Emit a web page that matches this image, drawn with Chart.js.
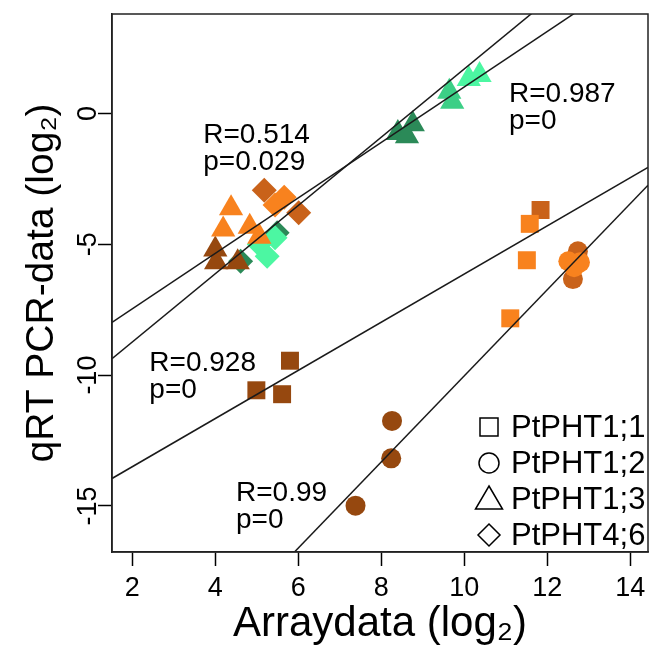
<!DOCTYPE html>
<html>
<head>
<meta charset="utf-8">
<title>qRT-PCR vs Array</title>
<script src="https://cdn.jsdelivr.net/npm/chart.js@4"></script>
<style>
  html, body { margin: 0; padding: 0; background: #fff; }
  #wrap { width: 662px; height: 657px; }
</style>
</head>
<body>
<div id="wrap"><canvas id="chartScatter"></canvas></div>
<script>
// genes and marker shapes
const genes = ['PtPHT1;1', 'PtPHT1;2', 'PtPHT1;3', 'PtPHT4;6'];
const shapes = ['rect', 'circle', 'triangle', 'rectRot'];

// tissue colours
const palette = {
  brown: '#96480f',
  darkOrange: '#c9621a',
  orange: '#f8821e',
  darkGreen: '#2b8a58',
  midGreen: '#3ccf86',
  lightGreen: '#4cf7a2'
};

// PtPHT1;1 (squares)
const pht11X = [5.80, 4.99, 5.61, 11.84, 11.58, 11.51, 11.11];
const pht11Y = [-9.45, -10.58, -10.73, -3.69, -4.22, -5.61, -7.83];
const pht11C = ['brown', 'brown', 'brown', 'darkOrange', 'orange', 'orange', 'orange'];

// PtPHT1;2 (circles)
const pht12X = [8.26, 8.24, 7.38, 12.74, 12.62, 12.51, 12.79, 12.65];
const pht12Y = [-11.75, -13.18, -14.99, -5.27, -6.33, -5.65, -5.69, -5.88];
const pht12C = ['brown', 'brown', 'brown', 'darkOrange', 'darkOrange', 'orange', 'orange', 'orange'];

// PtPHT1;3 (triangles)
const pht13X = [4.00, 4.02, 4.54, 4.38, 4.19, 4.83, 5.06, 8.40, 8.76, 8.62, 9.64, 9.71, 10.37, 10.11];
const pht13Y = [-5.20, -5.69, -5.69, -3.62, -4.44, -4.33, -4.71, -0.75, -0.41, -0.87, 0.83, 0.45, 1.47, 1.32];
const pht13C = ['brown', 'brown', 'brown', 'orange', 'orange', 'orange', 'orange',
  'darkGreen', 'darkGreen', 'darkGreen', 'midGreen', 'midGreen', 'lightGreen', 'lightGreen'];

// PtPHT4;6 (diamonds)
const pht46X = [5.18, 5.66, 6.01, 5.44, 4.61, 5.49, 5.06, 5.25, 5.44];
const pht46Y = [-2.94, -3.20, -3.80, -3.50, -5.65, -4.56, -5.01, -5.46, -4.75];
const pht46C = ['darkOrange', 'orange', 'darkOrange', 'orange', 'darkGreen', 'darkGreen', 'lightGreen', 'lightGreen', 'lightGreen'];

// regression lines y = a + b*x
const fitSlope = [1.06, 1.304, 0.92, 1.645];
const fitIntercept = [-9.59, -11.34, -15.34, -26.48];

// correlation labels (anchor at left / baseline of first line)
const statText = [['R=0.514', 'p=0.029'], ['R=0.987', 'p=0'], ['R=0.928', 'p=0'], ['R=0.99', 'p=0']];
const statX = [3.71, 11.08, 2.41, 4.50];
const statY = [-1.13, 0.45, -9.83, -14.80];

// axes
const xMin = 1.51, xMax = 14.43;
const yMin = -16.76, yMax = 3.8;
const xTicks = [2, 4, 6, 8, 10, 12, 14];
const yTicks = [0, -5, -10, -15];

const FONT = "'Liberation Sans', Arial, sans-serif";

function points(xs, ys) {
  return xs.map((x, i) => ({ x: x, y: ys[i] }));
}

const scatterSets = [
  [pht11X, pht11Y, pht11C],
  [pht12X, pht12Y, pht12C],
  [pht13X, pht13Y, pht13C],
  [pht46X, pht46Y, pht46C]
].map(([xs, ys, cs], g) => ({
  type: 'scatter',
  label: genes[g],
  data: points(xs, ys),
  pointStyle: shapes[g],
  pointRadius: [12.7, 10, 14, 12.5][g],
  pointBackgroundColor: cs.map(c => palette[c]),
  pointBorderWidth: 0,
  pointBorderColor: 'rgba(0,0,0,0)',
  order: 2
}));

const lineSets = fitSlope.map((b, i) => ({
  type: 'line',
  label: 'fit' + i,
  data: [
    { x: xMin, y: fitIntercept[i] + b * xMin },
    { x: xMax, y: fitIntercept[i] + b * xMax }
  ],
  borderColor: '#1a1a1a',
  borderWidth: 1.5,
  pointRadius: 0,
  fill: false,
  order: 1
}));

// box, rotated y labels, stats text, legend
const decorations = {
  id: 'decorations',
  afterDatasetsDraw(chart) {
    const ctx = chart.ctx;
    const area = chart.chartArea;
    const xs = chart.scales.x, ys = chart.scales.y;
    ctx.save();
    ctx.strokeStyle = '#222';
    ctx.lineWidth = 1.5;
    ctx.strokeRect(area.left, area.top, area.right - area.left, area.bottom - area.top);

    ctx.fillStyle = '#000';
    ctx.font = '27px ' + FONT;
    ctx.textAlign = 'center';
    ctx.textBaseline = 'alphabetic';
    yTicks.forEach(v => {
      ctx.save();
      ctx.translate(96, ys.getPixelForValue(v));
      ctx.rotate(-Math.PI / 2);
      ctx.fillText(String(v), 0, 0);
      ctx.restore();
    });

    ctx.font = '28px ' + FONT;
    ctx.textAlign = 'left';
    statText.forEach((lines, i) => {
      const px = xs.getPixelForValue(statX[i]);
      const py = ys.getPixelForValue(statY[i]);
      lines.forEach((t, k) => ctx.fillText(t, px, py + k * 27));
    });

    // legend with open symbols
    const lx = 489, ly0 = 427, step = 36;
    ctx.lineWidth = 1.5;
    ctx.strokeStyle = '#000';
    ctx.font = '31px ' + FONT;
    ctx.textBaseline = 'middle';
    genes.forEach((g, i) => {
      const cy = ly0 + i * step;
      ctx.beginPath();
      if (shapes[i] === 'rect') {
        ctx.rect(lx - 9, cy - 9, 18, 18);
      } else if (shapes[i] === 'circle') {
        ctx.arc(lx, cy, 10, 0, Math.PI * 2);
      } else if (shapes[i] === 'triangle') {
        ctx.moveTo(lx, cy - 13);
        ctx.lineTo(lx + 13.5, cy + 10);
        ctx.lineTo(lx - 13.5, cy + 10);
        ctx.closePath();
      } else {
        ctx.moveTo(lx, cy - 11);
        ctx.lineTo(lx + 11, cy);
        ctx.lineTo(lx, cy + 11);
        ctx.lineTo(lx - 11, cy);
        ctx.closePath();
      }
      ctx.stroke();
      ctx.fillText(g, 511, cy + 1);
    });
    ctx.restore();
  }
};

const ctx = document.getElementById('chartScatter');
new Chart(ctx, {
  data: { datasets: lineSets.concat(scatterSets) },
  options: {
    responsive: true,
    maintainAspectRatio: false,
    animation: false,
    layout: { padding: { top: 7, right: 5, left: 0, bottom: 0 } },
    plugins: { legend: { display: false }, tooltip: { enabled: false } },
    scales: {
      x: {
        type: 'linear',
        min: xMin,
        max: xMax,
        afterBuildTicks: s => { s.ticks = xTicks.map(v => ({ value: v })); },
        afterFit: s => { s.height = 105; },
        grid: { drawOnChartArea: false, tickLength: 14, tickColor: '#000', tickWidth: 1.5 },
        border: { display: true, color: '#222', width: 1.5 },
        ticks: { color: '#000', font: { family: FONT, size: 27 }, padding: 6, maxRotation: 0 },
        title: {
          display: true,
          text: 'Arraydata (log₂)',
          color: '#000',
          font: { family: FONT, size: 42 },
          padding: { top: 0, bottom: 7 }
        }
      },
      y: {
        type: 'linear',
        min: yMin,
        max: yMax,
        afterBuildTicks: s => { s.ticks = yTicks.map(v => ({ value: v })); },
        afterFit: s => { s.width = 112; },
        grid: { drawOnChartArea: false, tickLength: 14, tickColor: '#000', tickWidth: 1.5 },
        border: { display: true, color: '#222', width: 1.5 },
        ticks: { display: false },
        title: {
          display: true,
          text: 'qRT PCR-data (log₂)',
          color: '#000',
          font: { family: FONT, size: 39 },
          padding: { top: 19, bottom: 0 }
        }
      }
    }
  },
  plugins: [decorations]
});
</script>
</body>
</html>
